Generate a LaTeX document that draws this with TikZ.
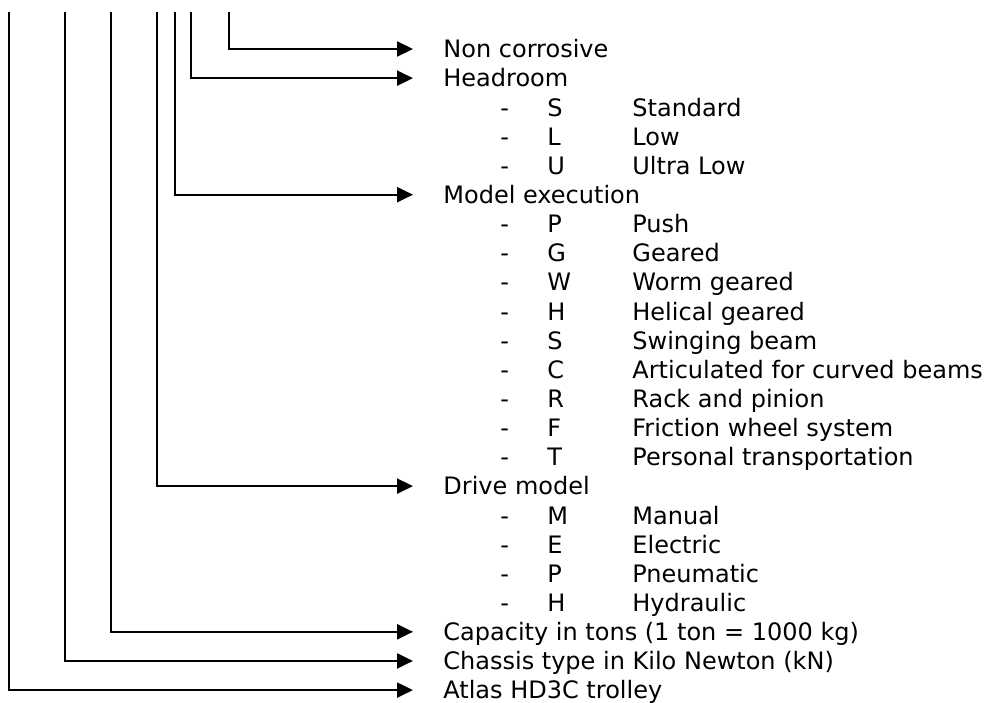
\documentclass[tikz,border=0pt]{standalone}
\usepackage{fontspec}
\setmainfont{DejaVu Sans}
\usepackage{tikz}
\usetikzlibrary{arrows.meta,positioning}
\tikzset{
  lbl/.style={anchor=west,inner sep=0pt,text height=8.75pt,text depth=0pt,font=\fontsize{12}{14}\selectfont},
  lead/.style={line width=1.1pt,-{Triangle[length=8pt,width=7.5pt]},shorten >=15pt}
}
\newcommand{\rowy}[1]{49+29.14*#1}

\begin{document}
\begin{tikzpicture}[x=0.5pt,y=-0.5pt]
  \useasboundingbox (0,0) rectangle (984,702);
  % main entries, each fed by its own vertical line
  \foreach \name/\row/\txt in {nc/0/Non corrosive, hr/1/Headroom, me/5/Model execution, dm/15/Drive model,
      cap/20/{Capacity in tons (1 ton = 1000 kg)}, chs/21/{Chassis type in Kilo Newton (kN)}, atl/22/Atlas HD3C trolley}
    \node[lbl] (\name) at (443,{\rowy{\row}}) {\txt};
  \foreach \name/\x in {nc/229, hr/191, me/175, dm/157, cap/111, chs/65, atl/9}{
    \coordinate (\name-top) at (\x,12);
    \draw[lead] (\name-top) |- (\name.west);
  }
  % code lists
  \foreach \key/\row/\code/\desc in {hr1/2/S/Standard, hr2/3/L/Low, hr3/4/U/Ultra Low,
      me1/6/P/Push, me2/7/G/Geared, me3/8/W/Worm geared, me4/9/H/Helical geared, me5/10/S/Swinging beam,
      me6/11/C/Articulated for curved beams, me7/12/R/Rack and pinion, me8/13/F/Friction wheel system,
      me9/14/T/Personal transportation,
      dm1/16/M/Manual, dm2/17/E/Electric, dm3/18/P/Pneumatic, dm4/19/H/Hydraulic}{
    \node[lbl] (\key-dash) at (500,{\rowy{\row}}) {-};
    \node[lbl] (\key-code) at (547,{\rowy{\row}}) {\code};
    \node[lbl] (\key-txt) at (632,{\rowy{\row}}) {\desc};
  }
\end{tikzpicture}
\end{document}
